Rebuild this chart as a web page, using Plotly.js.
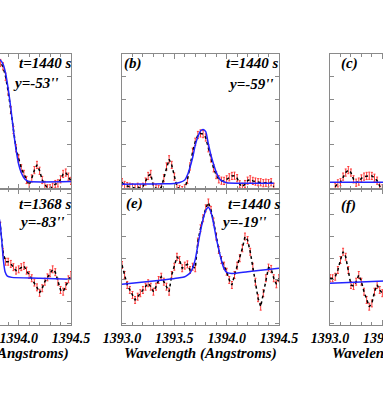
<!DOCTYPE html>
<html>
<head>
<meta charset="utf-8">
<script src="https://cdn.plot.ly/plotly-3.0.1.min.js"></script>
<style>
  html, body { margin: 0; padding: 0; overflow: hidden; background: #fff; }
  /* the figure is wider than the window: the outer columns are cut off like in the original crop */
  #chart { position: absolute; left: -100px; top: 0; width: 620px; height: 415px; }
</style>
</head>
<body>
<div id="chart"></div>
<script>
// wavelength grids (Angstroms)
var wlLeft = [1393.800, 1393.825, 1393.850, 1393.875, 1393.900, 1393.925, 1393.950, 1393.975,
  1394.000, 1394.025, 1394.050, 1394.075, 1394.100, 1394.125, 1394.150, 1394.175, 1394.200,
  1394.225, 1394.250, 1394.275, 1394.300, 1394.325, 1394.350, 1394.375, 1394.400, 1394.425,
  1394.450, 1394.475, 1394.500];
var wlMid = [1393.000, 1393.025, 1393.050, 1393.075, 1393.100, 1393.125, 1393.150, 1393.175,
  1393.200, 1393.225, 1393.250, 1393.275, 1393.300, 1393.325, 1393.350, 1393.375, 1393.400,
  1393.425, 1393.450, 1393.475, 1393.500, 1393.525, 1393.550, 1393.575, 1393.600, 1393.625,
  1393.650, 1393.675, 1393.700, 1393.725, 1393.750, 1393.775, 1393.800, 1393.825, 1393.850,
  1393.875, 1393.900, 1393.925, 1393.950, 1393.975, 1394.000, 1394.025, 1394.050, 1394.075,
  1394.100, 1394.125, 1394.150, 1394.175, 1394.200, 1394.225, 1394.250, 1394.275, 1394.300,
  1394.325, 1394.350, 1394.375, 1394.400, 1394.425, 1394.450, 1394.475, 1394.500];
var wlRight = [1393.000, 1393.025, 1393.050, 1393.075, 1393.100, 1393.125, 1393.150, 1393.175,
  1393.200, 1393.225, 1393.250, 1393.275, 1393.300, 1393.325, 1393.350, 1393.375, 1393.400,
  1393.425, 1393.450, 1393.475, 1393.500];

// observed profiles (arbitrary intensity units)
var obsA = [5.45, 5.60, 5.45, 4.99, 4.33, 3.51, 2.62, 1.81, 1.36, 0.92, 0.67, 0.40, 0.18, 0.47,
  0.84, 1.07, 0.81, 0.40, 0.18, 0.03, 0.03, 0.10, 0.22, 0.25, 0.43, 0.67, 0.73, 0.55, 0.36];
var obsB = [0.30, 0.18, 0.13, 0.10, 0.08, 0.03, 0.10, 0.03, 0.10, 0.33, 0.58, 0.67, 0.10, 0.03,
  0.00, 0.07, 0.48, 1.00, 1.32, 1.07, 0.55, 0.10, 0.00, -0.05, 0.03, 0.40, 1.00, 1.66, 2.10,
  2.40, 2.47, 2.44, 2.29, 1.81, 1.36, 0.92, 0.62, 0.43, 0.37, 0.36, 0.43, 0.52, 0.58, 0.59,
  0.48, 0.21, 0.10, 0.22, 0.37, 0.43, 0.36, 0.33, 0.30, 0.30, 0.26, 0.28, 0.26, 0.30, 0.10,
  null, null];
var obsC = [null, null, 0.10, 0.25, 0.30, 0.55, 0.73, 0.84, 0.73, 0.43, 0.28, 0.33, 0.47, 0.55,
  0.58, 0.59, 0.58, 0.50, 0.37, 0.13, 0.03];
var obsD = [5.00, 4.50, 3.30, 2.84, 2.84, 2.74, 2.59, 2.43, 2.49, 2.59, 2.65, 2.43, 2.23, 2.08,
  1.88, 1.66, 1.41, 1.62, 1.92, 2.12, 2.31, 2.49, 2.36, 1.92, 1.54, 1.46, 1.72, 2.03, 2.23];
var obsE = [2.69, 2.23, 1.77, 1.54, 1.31, 1.08, 1.23, 1.39, 1.54, 1.69, 1.85, 1.69, 1.46, 1.69,
  2.00, 2.15, 1.92, 1.69, 1.46, 2.23, 2.61, 3.07, 2.92, 2.54, 2.66, 2.72, 2.46, 2.61, 2.54,
  3.77, 4.38, 4.84, 5.30, 5.57, 5.23, 4.69, 4.00, 3.38, 2.92, 2.66, 2.38, 2.00, 1.77, 2.23,
  2.66, 3.00, 3.46, 4.00, 3.84, 3.30, 2.61, 1.92, 1.16, 0.77, 1.39, 2.08, 2.57, 2.51, 2.08,
  1.80, 2.08];
var obsF = [2.08, 2.08, 2.15, 2.46, 2.92, 3.30, 3.07, 2.46, 1.77, 1.72, 1.92, 2.23, 1.92, 1.46,
  1.08, 0.77, 0.92, 1.46, 1.77, 1.54, 1.39];

// fitted gaussian + background
var fitAwl = [1393.775, 1393.800, 1393.820, 1393.850, 1393.875, 1393.900, 1393.925, 1393.950,
  1393.975, 1394.000, 1394.025, 1394.050, 1394.075, 1394.100, 1394.500];
var fitA = [5.20, 5.60, 5.73, 5.55, 5.15, 4.45, 3.60, 2.60, 1.75, 1.10, 0.72, 0.50, 0.38, 0.33, 0.33];
var fitBwl = [1393.000, 1393.200, 1393.400, 1393.500, 1393.550, 1393.600, 1393.625, 1393.650,
  1393.675, 1393.700, 1393.725, 1393.750, 1393.775, 1393.800, 1393.825, 1393.850, 1393.875,
  1393.900, 1393.925, 1393.950, 1394.000, 1394.100, 1394.300, 1394.450];
var fitB = [0.21, 0.22, 0.23, 0.25, 0.29, 0.40, 0.62, 0.97, 1.40, 1.95, 2.32, 2.58, 2.65, 2.55,
  2.00, 1.50, 1.10, 0.75, 0.50, 0.37, 0.28, 0.26, 0.26, 0.26];
var fitCwl = [1393.000, 1394.500];
var fitC = [0.30, 0.30];
var fitDwl = [1393.775, 1393.800, 1393.822, 1393.838, 1393.854, 1393.870, 1393.892, 1393.934,
  1394.200, 1394.500];
var fitD = [5.00, 5.10, 4.61, 3.84, 2.92, 2.38, 2.18, 2.12, 2.08, 2.03];
var fitEwl = [1393.000, 1393.300, 1393.550, 1393.600, 1393.625, 1393.650, 1393.675, 1393.700,
  1393.725, 1393.750, 1393.775, 1393.800, 1393.825, 1393.850, 1393.875, 1393.900, 1393.925,
  1393.950, 1393.975, 1394.000, 1394.050, 1394.200, 1394.500];
var fitE = [1.80, 1.95, 2.10, 2.15, 2.22, 2.32, 2.55, 2.95, 3.60, 4.25, 4.80, 5.20, 5.35, 5.12,
  4.60, 3.95, 3.40, 2.90, 2.52, 2.35, 2.30, 2.38, 2.54];
var fitFwl = [1393.000, 1394.500];
var fitF = [1.85, 2.15];

var tickVals = [1393.0, 1393.5, 1394.0, 1394.5];
var tickText = ['1393.0', '1393.5', '1394.0', '1394.5'];

var panels = [
  {wl: wlLeft, obs: obsA, fwl: fitAwl, fit: fitA, n: ''},
  {wl: wlMid, obs: obsB, fwl: fitBwl, fit: fitB, n: '2'},
  {wl: wlRight, obs: obsC, fwl: fitCwl, fit: fitC, n: '3'},
  {wl: wlLeft, obs: obsD, fwl: fitDwl, fit: fitD, n: '4'},
  {wl: wlMid, obs: obsE, fwl: fitEwl, fit: fitE, n: '5'},
  {wl: wlRight, obs: obsF, fwl: fitFwl, fit: fitF, n: '6'}
];

var traces = [];
panels.forEach(function (p) {
  traces.push({
    x: p.wl, y: p.obs, xaxis: 'x' + p.n, yaxis: 'y' + p.n,
    type: 'scatter', mode: 'lines',
    line: {color: '#000', width: 1.5, dash: 'dot'},
    error_y: {type: 'constant', value: 0.16, color: '#ff3a3a', thickness: 1, width: 1},
    connectgaps: false, hoverinfo: 'skip', showlegend: false
  });
  traces.push({
    x: p.fwl, y: p.fit, xaxis: 'x' + p.n, yaxis: 'y' + p.n,
    type: 'scatter', mode: 'lines',
    line: {color: '#2323ff', width: 1.5, shape: 'spline', smoothing: 0.6},
    hoverinfo: 'skip', showlegend: false
  });
});

var W = 620, H = 415;
var gray = '#8a8a8a';
var serif = {family: 'Liberation Serif, Times New Roman, serif', weight: 'bold', style: 'italic', color: '#000'};

// frame positions in pixels: left edge of each column, plot area top 54 / bottom 325, rows meet at 189
var colLeft = [14, 222, 430];
var colW = 157;
var mTop = 54, mBot = 90;
var rowSplit = (325 - 189) / (325 - 54);

function xax(col, bottom) {
  return {
    domain: [colLeft[col] / W, (colLeft[col] + colW) / W],
    range: [1393.0, 1394.5],
    automargin: false,
    showline: true, linecolor: gray, linewidth: 1, mirror: 'ticks',
    ticks: 'inside', ticklen: 5, tickcolor: gray, tickwidth: 1,
    tickvals: tickVals, ticktext: tickText,
    showticklabels: bottom,
    tickfont: Object.assign({size: 14}, serif),
    showgrid: false, zeroline: false,
    minor: {ticks: 'inside', dtick: 0.1, tick0: 1393.0, ticklen: 3, tickcolor: gray, showgrid: false}
  };
}
function yax(top) {
  return {
    domain: top ? [rowSplit, 1] : [0, rowSplit],
    range: top ? [0, 6] : [-0.074, 6.19],
    dtick: 1, tick0: 0,
    automargin: false,
    showline: true, linecolor: gray, linewidth: 1, mirror: 'ticks',
    ticks: 'inside', ticklen: 4, tickcolor: gray,
    showticklabels: false, showgrid: false, zeroline: false
  };
}

var layout = {
  width: W, height: H,
  margin: {l: 0, r: 0, t: mTop, b: mBot, autoexpand: false},
  paper_bgcolor: '#fff', plot_bgcolor: '#fff',
  showlegend: false,
  xaxis: Object.assign(xax(0, false), {anchor: 'y'}), yaxis: Object.assign(yax(true), {anchor: 'x'}),
  xaxis2: Object.assign(xax(1, false), {anchor: 'y2'}), yaxis2: Object.assign(yax(true), {anchor: 'x2'}),
  xaxis3: Object.assign(xax(2, false), {anchor: 'y3'}), yaxis3: Object.assign(yax(true), {anchor: 'x3'}),
  xaxis4: Object.assign(xax(0, true), {anchor: 'y4'}), yaxis4: Object.assign(yax(false), {anchor: 'x4'}),
  xaxis5: Object.assign(xax(1, true), {anchor: 'y5'}), yaxis5: Object.assign(yax(false), {anchor: 'x5'}),
  xaxis6: Object.assign(xax(2, true), {anchor: 'y6'}), yaxis6: Object.assign(yax(false), {anchor: 'x6'}),
  annotations: []
};

function label(n, text, x, y) {
  layout.annotations.push({
    xref: 'x' + n + ' domain', yref: 'y' + n + ' domain',
    x: x, y: y, xanchor: 'left', yanchor: 'middle',
    text: text, showarrow: false,
    font: Object.assign({size: 15}, serif)
  });
}
label('', 't=1440 s', 0.655, 0.933);
label('', "y=-53''", 0.617, 0.785);
label('2', '(b)', 0.0, 0.933);
label('2', 't=1440 s', 0.649, 0.933);
label('2', "y=-59''", 0.662, 0.78);
label('3', '(c)', 0.057, 0.933);
label('4', 't=1368 s', 0.655, 0.89);
label('4', "y=-83''", 0.655, 0.754);
label('5', '(e)', 0.013, 0.89);
label('5', 't=1440 s', 0.662, 0.89);
label('5', "y=-19''", 0.617, 0.754);
label('6', '(f)', 0.057, 0.882);

// x axis titles under each column, just below the tick labels
['4', '5', '6'].forEach(function (n) {
  layout.annotations.push({
    xref: 'x' + n + ' domain', yref: 'paper',
    x: 0.5, y: -28 / (325 - 54), xanchor: 'center', yanchor: 'middle',
    text: 'Wavelength (Angstroms)', showarrow: false,
    font: Object.assign({size: 15}, serif)
  });
});

Plotly.newPlot('chart', traces, layout, {staticPlot: true, displayModeBar: false});
</script>
</body>
</html>
